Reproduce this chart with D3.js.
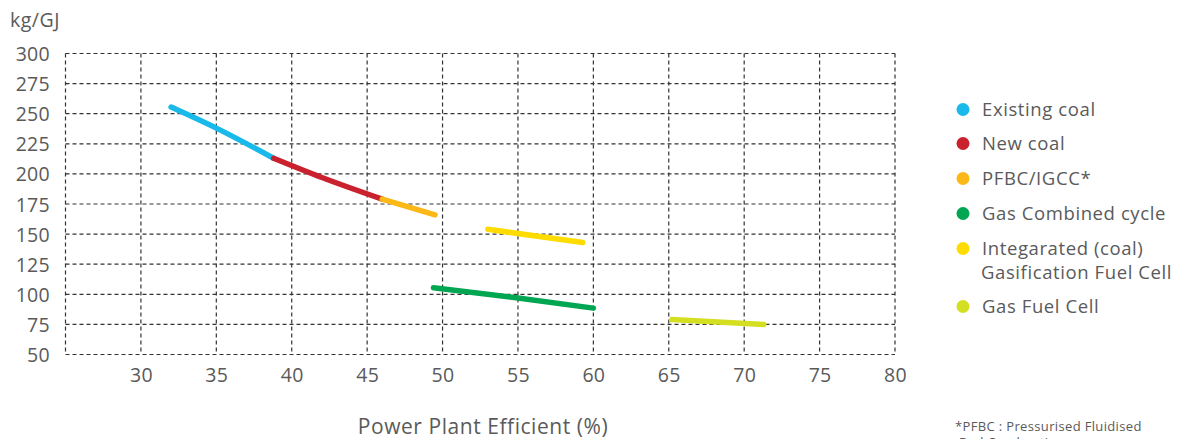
<!DOCTYPE html>
<html>
<head>
<meta charset="utf-8">
<script src="https://cdn.jsdelivr.net/npm/d3@7"></script>
<style>
  html, body { margin: 0; padding: 0; background: #fff; }
  svg { display: block; font-family: "Open Sans", "Noto Sans", sans-serif; }
</style>
</head>
<body>
<svg id="chart" width="1180" height="439"></svg>
<script>
// Tick values
const xTicks = [30, 35, 40, 45, 50, 55, 60, 65, 70, 75, 80];
const yTicks = [50, 75, 100, 125, 150, 175, 200, 225, 250, 275, 300];

// Series: [efficiency %, kg/GJ]
const seriesNames = [
  "Existing coal",
  "New coal",
  "PFBC/IGCC*",
  "Gas Combined cycle",
  "Integarated (coal)\nGasification Fuel Cell",
  "Gas Fuel Cell"
];
const seriesColors = ["#19b9e9", "#c9222e", "#fbb817", "#00a651", "#ffdc00", "#d4df22"];
const existingCoal = [[32.0, 255.5], [35.0, 238], [38.8, 213]];
const newCoal      = [[38.8, 213], [42.0, 197], [46.0, 179]];
const pfbcIgcc     = [[46.0, 179], [49.5, 166]];
const gasCombined  = [[49.4, 105.5], [55.0, 97], [60.0, 88.5]];
const integratedFC = [[53.0, 154], [59.3, 143]];
const gasFuelCell  = [[65.2, 79], [71.3, 75]];
const seriesData = [existingCoal, newCoal, pfbcIgcc, gasCombined, integratedFC, gasFuelCell];

const svg = d3.select("#chart");
const textColor = "#5a5a5a";

const x = d3.scaleLinear().domain([25, 80]).range([65.5, 895]);
const y = d3.scaleLinear().domain([50, 300]).range([354.5, 53.5]);

// Dashed grid
const grid = svg.append("g").attr("stroke", "#333").attr("stroke-width", 1.2)
  .attr("stroke-dasharray", "4,3").attr("fill", "none");
grid.selectAll("line.h").data(yTicks).join("line")
  .attr("x1", x(25)).attr("x2", x(80))
  .attr("y1", d => y(d)).attr("y2", d => y(d));
grid.selectAll("line.v").data([25].concat(xTicks)).join("line")
  .attr("y1", y(300)).attr("y2", y(50))
  .attr("x1", d => x(d)).attr("x2", d => x(d));

// Axes labels
const xAxis = d3.axisBottom(x).tickValues(xTicks).tickSize(0).tickPadding(0);
const gx = svg.append("g").attr("transform", `translate(0, ${y(50)})`).call(xAxis)
  .attr("font-family", null).attr("font-size", null);
gx.select(".domain").remove();
gx.selectAll("text").attr("dy", null).attr("y", 27)
  .attr("font-size", 19.5).attr("letter-spacing", 0.3).attr("fill", textColor);

const yAxis = d3.axisLeft(y).tickValues(yTicks).tickSize(0).tickPadding(0);
const gy = svg.append("g").attr("transform", `translate(50, 0)`).call(yAxis)
  .attr("font-family", null).attr("font-size", null);
gy.select(".domain").remove();
gy.selectAll("text").attr("x", 0).attr("dy", "0.36em")
  .attr("font-size", 19.5).attr("letter-spacing", 0.3).attr("fill", textColor);

svg.append("text").attr("x", 10).attr("y", 27).attr("font-size", 19.5)
  .attr("letter-spacing", 0.5).attr("fill", textColor).text("kg/GJ");

svg.append("text").attr("x", 483).attr("y", 434).attr("text-anchor", "middle")
  .attr("font-size", 21).attr("letter-spacing", 0.55).attr("fill", textColor)
  .text("Power Plant Efficient (%)");

// Lines
const line = d3.line().x(d => x(d[0])).y(d => y(d[1])).curve(d3.curveMonotoneX);
svg.append("g").selectAll("path").data(seriesData).join("path")
  .attr("d", line)
  .attr("fill", "none")
  .attr("stroke", (d, i) => seriesColors[i])
  .attr("stroke-width", 5.5)
  .attr("stroke-linecap", "round");

// Legend
const legendRows = [109.5, 143.5, 178.5, 213.5, 248.5, 306.5];
const legend = svg.append("g");
seriesNames.forEach((name, i) => {
  const g = legend.append("g").attr("transform", `translate(963, ${legendRows[i]})`);
  g.append("circle").attr("r", 6.5).attr("fill", seriesColors[i]);
  const lines = name.split("\n");
  const t = g.append("text").attr("font-size", 18.5).attr("letter-spacing", 0.6)
    .attr("fill", textColor);
  lines.forEach((ln, j) => {
    t.append("tspan").attr("x", j === 0 ? 19 : 18).attr("y", j * 23.5).attr("dy", "0.36em").text(ln);
  });
});

// Footnote
const foot = svg.append("text").attr("font-size", 13).attr("letter-spacing", 0.35)
  .attr("fill", textColor);
foot.append("tspan").attr("x", 955).attr("y", 431).text("*PFBC : Pressurised Fluidised");
foot.append("tspan").attr("x", 959).attr("y", 447).text("Bed Combustion");
</script>
</body>
</html>
